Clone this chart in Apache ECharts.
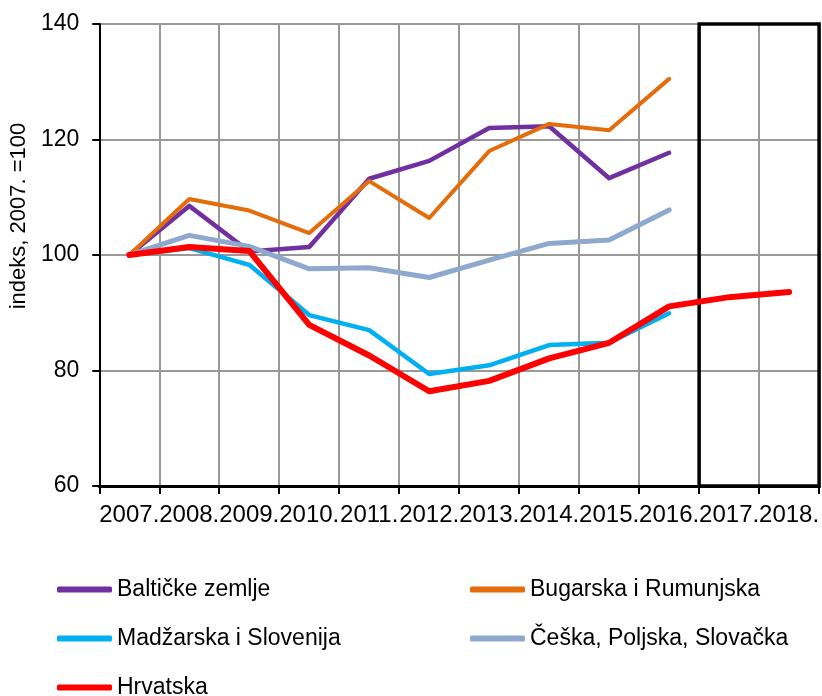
<!DOCTYPE html>
<html>
<head>
<meta charset="utf-8">
<script src="https://cdn.jsdelivr.net/npm/echarts@6/dist/echarts.min.js"></script>
<style>
  html, body { margin: 0; padding: 0; background: #fff; }
  #main { width: 822px; height: 696px; }
</style>
</head>
<body>
<div id="main"></div>
<script>
// podaci
var godine = ['2007.', '2008.', '2009.', '2010.', '2011.', '2012.', '2013.', '2014.', '2015.', '2016.', '2017.', '2018.'];
var balticke = [100, 108.5, 100.6, 101.4, 113.2, 116.3, 122.0, 122.3, 113.3, 117.7];
var bugRum = [100, 109.7, 107.7, 103.8, 112.8, 106.4, 118.0, 122.7, 121.6, 130.5];
var madSlo = [100, 101.2, 98.3, 89.6, 87.0, 79.4, 80.9, 84.4, 84.8, 89.9];
var cpsk = [100, 103.4, 101.5, 97.6, 97.8, 96.1, 99.1, 102.0, 102.6, 107.8];
var hrvatska = [100, 101.4, 100.7, 87.9, 82.6, 76.4, 78.2, 82.1, 84.8, 91.1, 92.7, 93.6];
// okvir za projekciju (2017.-2018.), po rubovima kategorija
var okvirOd = 10, okvirDo = 12;

var font = "'Liberation Sans', Arial, sans-serif";

function linija(name, data, color, width) {
  return {
    name: name,
    type: 'line',
    data: data,
    symbol: 'none',
    lineStyle: { color: color, width: width, cap: 'round', join: 'round' },
    itemStyle: { color: color },
    emphasis: { disabled: true }
  };
}

function legenda(left, imena) {
  return {
    orient: 'vertical',
    left: left,
    top: 573,
    height: 140,
    itemWidth: 55,
    itemHeight: 6,
    itemGap: 26,
    icon: 'roundRect',
    textStyle: { fontFamily: font, fontSize: 23, color: '#000' },
    data: imena
  };
}

var myChart = echarts.init(document.getElementById('main'));

var option = {
  animation: false,
  textStyle: { fontFamily: font },
  grid: { left: 98, right: 1, top: 24, bottom: 210, containLabel: false },
  legend: [
    legenda(52, ['Baltičke zemlje', 'Madžarska i Slovenija', 'Hrvatska']),
    legenda(465, ['Bugarska i Rumunjska', 'Češka, Poljska, Slovačka'])
  ],
  xAxis: [
    {
      type: 'category',
      data: godine,
      boundaryGap: true,
      axisLine: { lineStyle: { color: '#000', width: 3 } },
      axisTick: { show: true, length: 8, lineStyle: { color: '#000', width: 2 } },
      axisLabel: { interval: 0, color: '#000', fontSize: 24, fontFamily: font, margin: 17 },
      splitLine: { show: true, lineStyle: { color: '#999', width: 2 } }
    },
    {
      type: 'value',
      min: 0,
      max: 12,
      show: false
    }
  ],
  yAxis: {
    type: 'value',
    min: 60,
    max: 140,
    interval: 20,
    name: 'indeks, 2007. =100',
    nameLocation: 'middle',
    nameGap: 56,
    nameTextStyle: { color: '#000', fontSize: 22, fontFamily: font, padding: [0, 0, 0, 78] },
    axisLine: { show: true, lineStyle: { color: '#000', width: 2 } },
    axisTick: { show: true, length: 7, lineStyle: { color: '#000', width: 2 } },
    axisLabel: { color: '#000', fontSize: 23, fontFamily: font, margin: 20 },
    splitLine: { show: true, lineStyle: { color: '#999', width: 2 } }
  },
  series: [
    linija('Baltičke zemlje', balticke, '#7030A0', 4.5),
    linija('Bugarska i Rumunjska', bugRum, '#E46C0A', 4),
    linija('Madžarska i Slovenija', madSlo, '#00B0F0', 4.5),
    linija('Češka, Poljska, Slovačka', cpsk, '#8EA8CE', 5),
    linija('Hrvatska', hrvatska, '#FF0000', 6),
    {
      type: 'line',
      xAxisIndex: 1,
      data: [],
      silent: true,
      markArea: {
        silent: true,
        itemStyle: { color: 'rgba(0,0,0,0)', borderColor: '#000', borderWidth: 3.5 },
        data: [[{ xAxis: okvirOd, yAxis: 140 }, { xAxis: okvirDo, yAxis: 60 }]]
      }
    }
  ]
};

myChart.setOption(option);
</script>
</body>
</html>
